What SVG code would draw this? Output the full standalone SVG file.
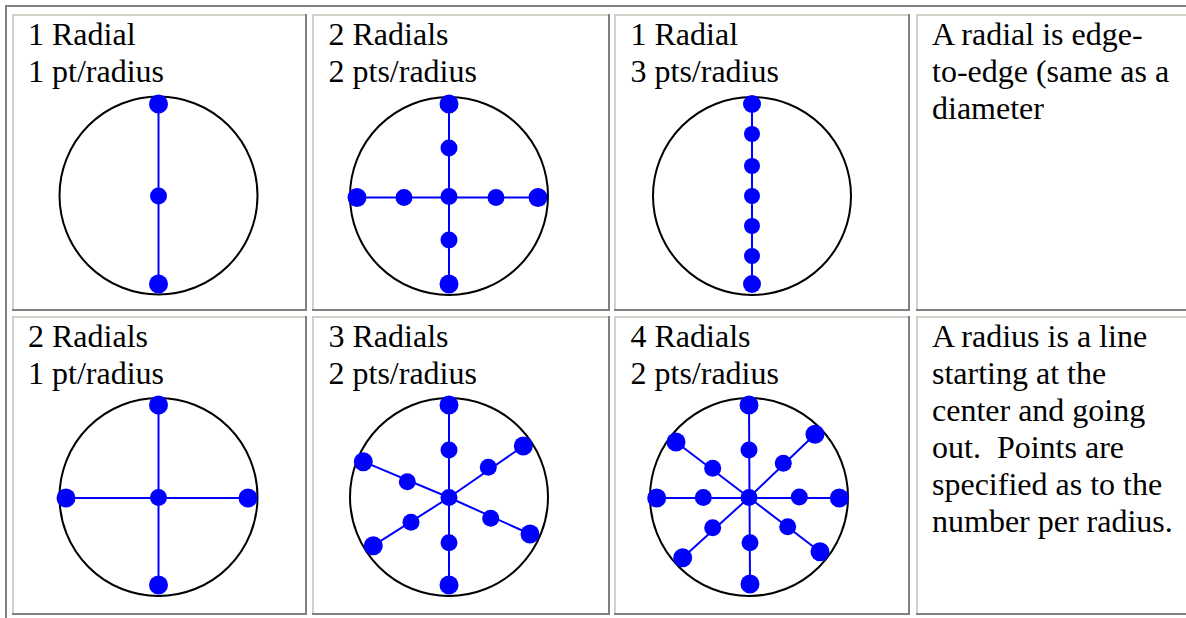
<svg xmlns="http://www.w3.org/2000/svg" width="1186" height="618" viewBox="0 0 1186 618">
<style>
.t{font-family:"Liberation Serif","Times New Roman",serif;font-size:32px;fill:#000}
.hl{fill:#d4d0c8}
.sh{fill:#808080}
.ring{fill:none;stroke:#000;stroke-width:2}
.sp{stroke:#0000ff;stroke-width:2;fill:none}
.o{fill:#0000ff}
.i{fill:#0000ff}
</style>
<rect width="1186" height="618" fill="#fff"/>
<g id="table-frame">
<rect class="sh" x="5" y="5" width="1181" height="2"/>
<rect class="sh" x="5" y="5" width="2" height="613"/>
<!-- row 1 -->
<rect class="hl" x="12" y="14" width="295" height="2"/><rect class="hl" x="12" y="14" width="2" height="297"/>
<rect class="sh" x="305" y="14" width="2" height="297"/><rect class="sh" x="12" y="309" width="295" height="2"/>
<rect class="hl" x="312" y="14" width="298" height="2"/><rect class="hl" x="312" y="14" width="2" height="297"/>
<rect class="sh" x="608" y="14" width="2" height="297"/><rect class="sh" x="312" y="309" width="298" height="2"/>
<rect class="hl" x="614" y="14" width="296" height="2"/><rect class="hl" x="614" y="14" width="2" height="297"/>
<rect class="sh" x="908" y="14" width="2" height="297"/><rect class="sh" x="614" y="309" width="296" height="2"/>
<rect class="hl" x="916" y="14" width="270" height="2"/><rect class="hl" x="916" y="14" width="2" height="297"/>
<rect class="sh" x="916" y="309" width="270" height="2"/>
<!-- row 2 -->
<rect class="hl" x="12" y="316" width="295" height="2"/><rect class="hl" x="12" y="316" width="2" height="299"/>
<rect class="sh" x="305" y="316" width="2" height="299"/><rect class="sh" x="12" y="613" width="295" height="2"/>
<rect class="hl" x="312" y="316" width="298" height="2"/><rect class="hl" x="312" y="316" width="2" height="299"/>
<rect class="sh" x="608" y="316" width="2" height="299"/><rect class="sh" x="312" y="613" width="298" height="2"/>
<rect class="hl" x="614" y="316" width="296" height="2"/><rect class="hl" x="614" y="316" width="2" height="299"/>
<rect class="sh" x="908" y="316" width="2" height="299"/><rect class="sh" x="614" y="613" width="296" height="2"/>
<rect class="hl" x="916" y="316" width="270" height="2"/><rect class="hl" x="916" y="316" width="2" height="299"/>
<rect class="sh" x="916" y="613" width="270" height="2"/>
</g>

<g id="cell-r1c1">
<text class="t" x="28" y="45">1 Radial</text>
<text class="t" x="28" y="82">1 pt/radius</text>
<circle class="ring" cx="158.5" cy="195.5" r="99"/>
<path class="sp" d="M158.5,104V284"/>
<circle class="o" cx="158.5" cy="104" r="9.5"/><circle class="i" cx="158.5" cy="196" r="8.5"/><circle class="o" cx="158.5" cy="284" r="9.5"/>
</g>

<g id="cell-r1c2">
<text class="t" x="328.5" y="45">2 Radials</text>
<text class="t" x="328.5" y="82">2 pts/radius</text>
<circle class="ring" cx="449" cy="196" r="99"/>
<path class="sp" d="M449,104V284M357,197.5H538"/>
<circle class="o" cx="449" cy="104" r="9.5"/><circle class="o" cx="449" cy="284" r="9.5"/>
<circle class="o" cx="357" cy="197.5" r="9.5"/><circle class="o" cx="538" cy="197.5" r="9.5"/>
<circle class="i" cx="449" cy="148" r="8.5"/><circle class="i" cx="449" cy="240" r="8.5"/>
<circle class="i" cx="404" cy="197.5" r="8.5"/><circle class="i" cx="496" cy="197.5" r="8.5"/>
<circle class="i" cx="449" cy="196.5" r="8.5"/>
</g>

<g id="cell-r1c3">
<text class="t" x="630.5" y="45">1 Radial</text>
<text class="t" x="630.5" y="82">3 pts/radius</text>
<circle class="ring" cx="752" cy="196" r="99"/>
<path class="sp" d="M752,104V284"/>
<circle class="o" cx="752" cy="104" r="9"/><circle class="i" cx="752" cy="134" r="8"/>
<circle class="i" cx="752" cy="166" r="8"/><circle class="i" cx="752" cy="196" r="8"/>
<circle class="i" cx="752" cy="226" r="8"/><circle class="i" cx="752" cy="256" r="8"/>
<circle class="o" cx="752" cy="284" r="9"/>
</g>

<g id="cell-r1c4">
<text class="t" x="932" y="45">A radial is edge-</text>
<text class="t" x="932" y="82">to-edge (same as a</text>
<text class="t" x="932" y="118.5">diameter</text>
</g>

<g id="cell-r2c1">
<text class="t" x="28" y="347">2 Radials</text>
<text class="t" x="28" y="384">1 pt/radius</text>
<circle class="ring" cx="158.5" cy="497" r="99"/>
<path class="sp" d="M158.5,405V585M66,498H248"/>
<circle class="o" cx="158.5" cy="405" r="9.5"/><circle class="o" cx="158.5" cy="585" r="9.5"/>
<circle class="o" cx="66" cy="498" r="9.5"/><circle class="o" cx="248" cy="498" r="9.5"/>
<circle class="i" cx="158.5" cy="497.5" r="8.5"/>
</g>

<g id="cell-r2c2">
<text class="t" x="328.5" y="347">3 Radials</text>
<text class="t" x="328.5" y="384">2 pts/radius</text>
<circle class="ring" cx="449" cy="497" r="99"/>
<path class="sp" d="M449,405V585M449,497.5L523.3,446M449,497.5L373.3,545.7M449,497.5L363.3,461.7M449,497.5L530,534"/>
<circle class="o" cx="449" cy="405" r="9.5"/><circle class="o" cx="449" cy="585" r="9.5"/>
<circle class="o" cx="523.3" cy="446" r="9.5"/><circle class="o" cx="373.3" cy="545.7" r="9.5"/>
<circle class="o" cx="363.3" cy="461.7" r="9.5"/><circle class="o" cx="530" cy="534" r="9.5"/>
<circle class="i" cx="449" cy="450" r="8.5"/><circle class="i" cx="449" cy="542.7" r="8.5"/>
<circle class="i" cx="488.3" cy="467.3" r="8.5"/><circle class="i" cx="411" cy="522.3" r="8.5"/>
<circle class="i" cx="407.3" cy="481.7" r="8.5"/><circle class="i" cx="490.7" cy="518.3" r="8.5"/>
<circle class="i" cx="449" cy="497.5" r="8.5"/>
</g>

<g id="cell-r2c3">
<text class="t" x="630.5" y="347">4 Radials</text>
<text class="t" x="630.5" y="384">2 pts/radius</text>
<circle class="ring" cx="749" cy="497" r="99"/>
<path class="sp" d="M749,405L750,584M656.7,498H839.3M749,497.5L676,442M749,497.5L820,551.7M749,497.5L815,434.3M749,497.5L682.7,557.7"/>
<circle class="o" cx="749" cy="405" r="9.5"/><circle class="o" cx="750" cy="584" r="9.5"/>
<circle class="o" cx="656.7" cy="498" r="9.5"/><circle class="o" cx="839.3" cy="498" r="9.5"/>
<circle class="o" cx="676" cy="442" r="9.5"/><circle class="o" cx="815" cy="434.3" r="9.5"/>
<circle class="o" cx="682.7" cy="557.7" r="9.5"/><circle class="o" cx="820" cy="551.7" r="9.5"/>
<circle class="i" cx="749" cy="450" r="8.5"/><circle class="i" cx="750" cy="542.7" r="8.5"/>
<circle class="i" cx="703.3" cy="497.5" r="8.5"/><circle class="i" cx="799.3" cy="497" r="8.5"/>
<circle class="i" cx="712.7" cy="468.3" r="8.5"/><circle class="i" cx="783.3" cy="463.3" r="8.5"/>
<circle class="i" cx="712.7" cy="527.7" r="8.5"/><circle class="i" cx="787.7" cy="526.7" r="8.5"/>
<circle class="i" cx="749" cy="497.5" r="8.5"/>
</g>

<g id="cell-r2c4">
<text class="t" x="932" y="347">A radius is a line</text>
<text class="t" x="932" y="384">starting at the</text>
<text class="t" x="932" y="421">center and going</text>
<text class="t" x="932" y="458">out.&#160; Points are</text>
<text class="t" x="932" y="495">specified as to the</text>
<text class="t" x="932" y="532">number per radius.</text>
</g>
</svg>
